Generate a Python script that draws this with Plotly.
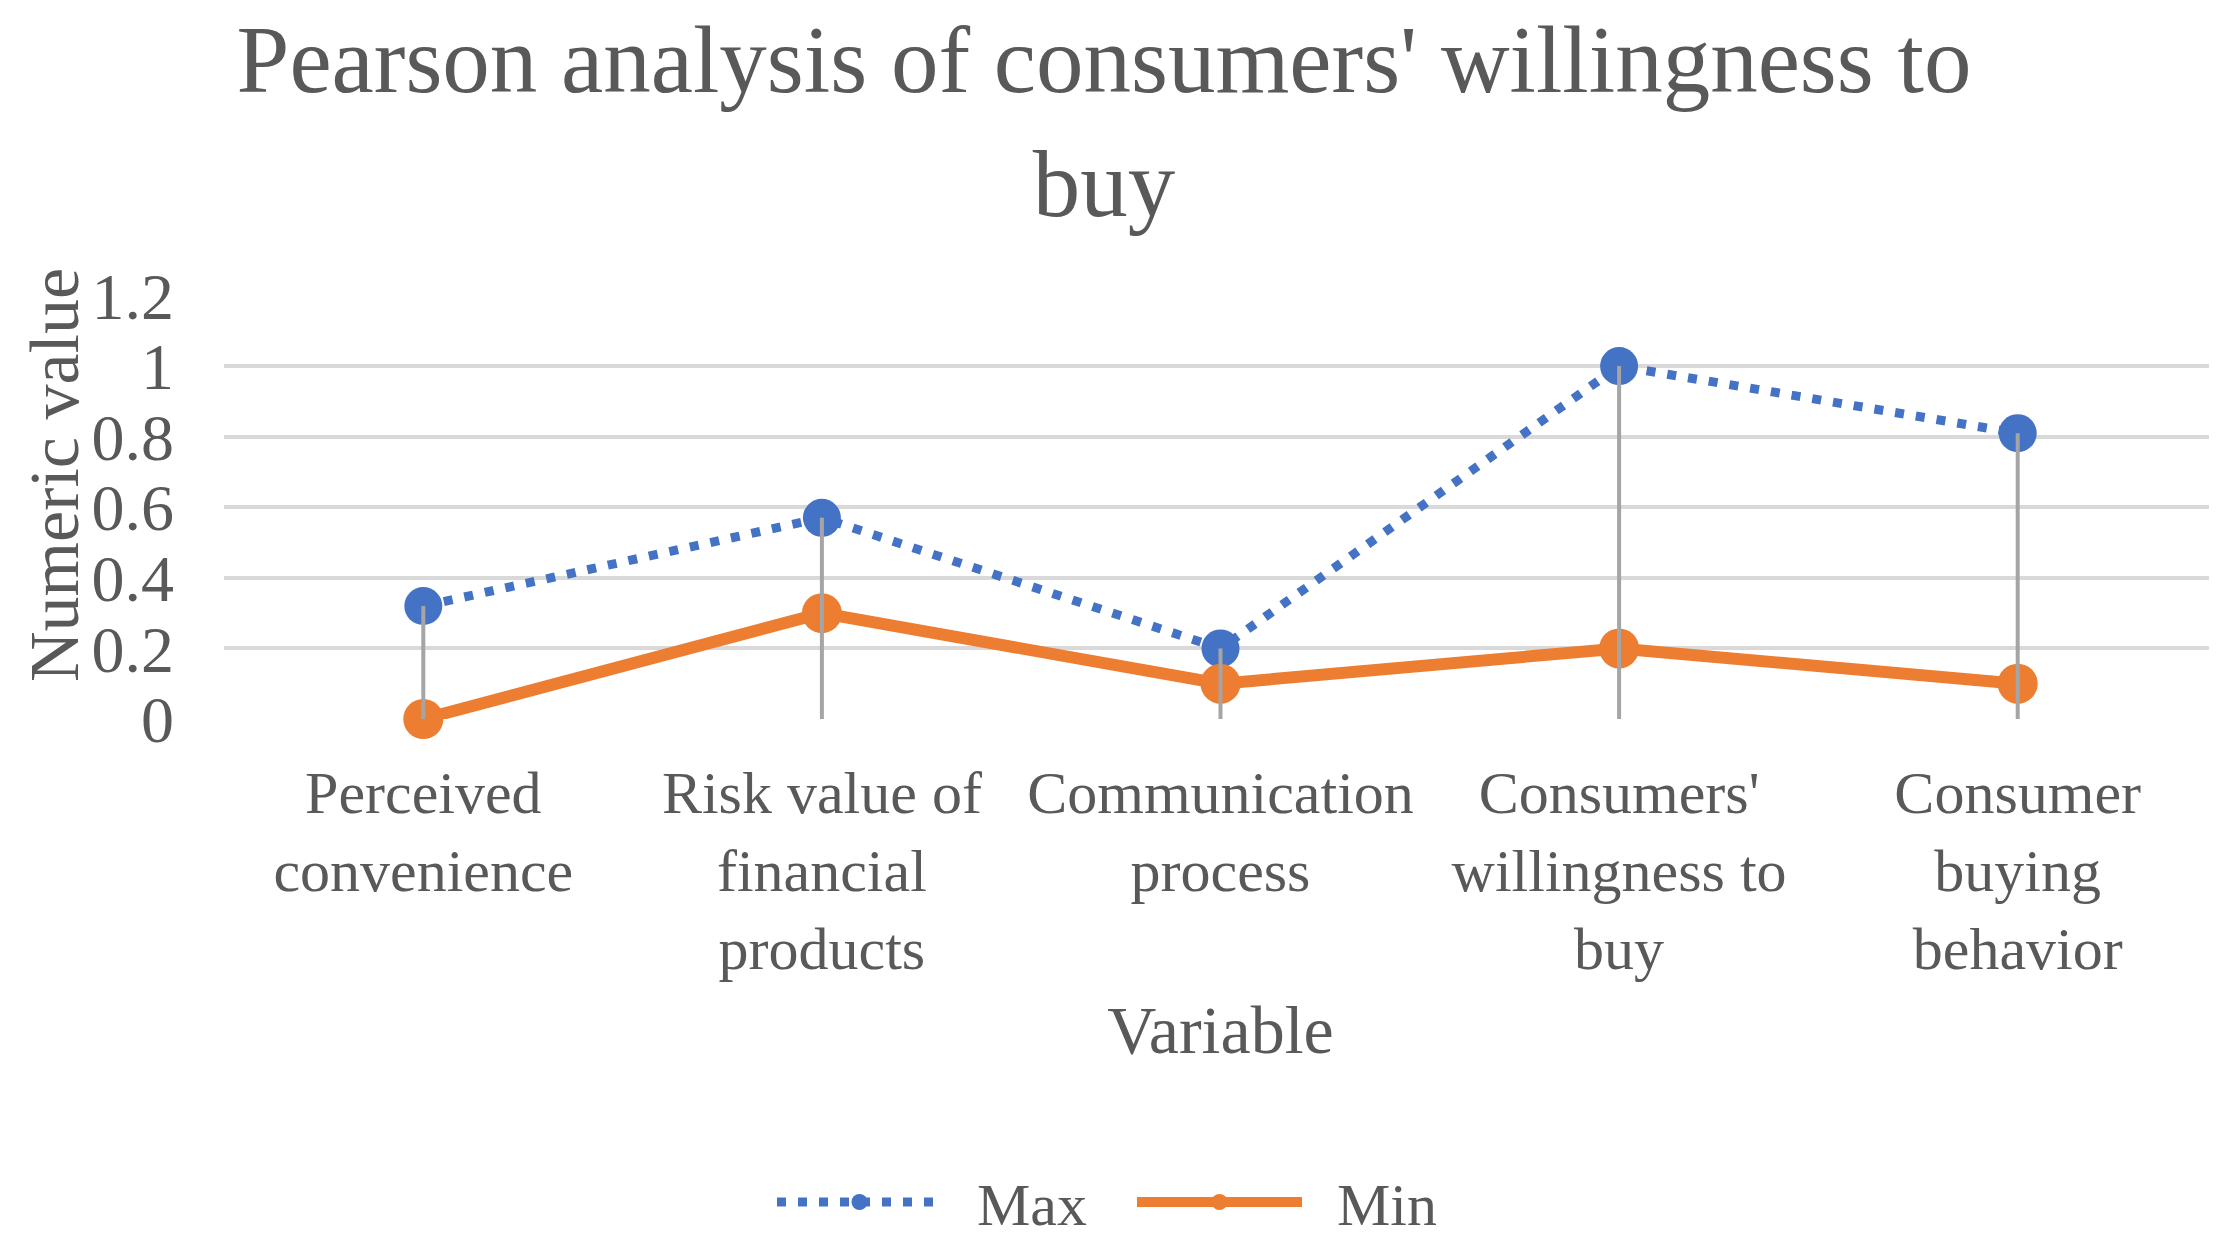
import plotly.graph_objects as go

categories = [
    "Perceived<br>convenience",
    "Risk value of<br>financial<br>products",
    "Communication<br>process",
    "Consumers'<br>willingness to<br>buy",
    "Consumer<br>buying<br>behavior",
]
max_values = [0.32, 0.57, 0.20, 1.00, 0.81]
min_values = [0.00, 0.30, 0.10, 0.20, 0.10]
y_ticks = [0, 0.2, 0.4, 0.6, 0.8, 1.0, 1.2]
y_tick_text = ["0", "0.2", "0.4", "0.6", "0.8", "1", "1.2"]

FONT = "Liberation Serif, Times New Roman, serif"
TXT = "#595959"
W, H = 2217, 1244
L, R, T, B = 216, 8, 287, 533
NB = "\u00a0\u00a0"

# high-low stems from 0 to the max value of each category
stem_x, stem_y = [], []
for c, v in zip(categories, max_values):
    stem_x += [c, c, None]
    stem_y += [0, v, None]

fig = go.Figure()
fig.add_trace(go.Scatter(
    x=categories, y=max_values, name=NB + "Max", mode="lines+markers",
    line=dict(color="#4472C4", width=9, dash="9px,12px"),
    marker=dict(symbol="circle", size=38, color="#4472C4"),
    cliponaxis=False,
))
fig.add_trace(go.Scatter(
    x=categories, y=min_values, name=NB + "Min", mode="lines+markers",
    line=dict(color="#ED7D31", width=12),
    marker=dict(symbol="circle", size=40, color="#ED7D31"),
    cliponaxis=False,
))
fig.add_trace(go.Scatter(
    x=stem_x, y=stem_y, mode="lines", showlegend=False, hoverinfo="skip",
    line=dict(color="#A5A5A5", width=4), cliponaxis=False,
))

fig.update_layout(
    width=W, height=H,
    margin=dict(l=L, r=R, t=T, b=B),
    paper_bgcolor="white", plot_bgcolor="white",
    font=dict(family=FONT, color=TXT, size=60),
    title=dict(
        text="Pearson analysis of consumers' willingness to<br>buy",
        font=dict(family=FONT, color=TXT, size=95),
        x=1096 / W, xanchor="center", xref="container",
        y=1 - 84 / H, yanchor="middle", yref="container",
    ),
    xaxis=dict(
        type="category", range=[-0.5, 4.5],
        showgrid=False, zeroline=False, showline=False,
        ticks="", ticklabelstandoff=33,
        tickfont=dict(family=FONT, color=TXT, size=60),
        title=dict(text="Variable", font=dict(family=FONT, color=TXT, size=68), standoff=24),
    ),
    yaxis=dict(
        range=[0, 1.2015], tickvals=y_ticks, ticktext=y_tick_text,
        showgrid=True, gridcolor="#D9D9D9", gridwidth=4,
        zeroline=False, showline=False, ticks="",
        ticklabelstandoff=49,
        tickfont=dict(family=FONT, color=TXT, size=66),
    ),
    annotations=[dict(
        text="Numeric value", textangle=-90, showarrow=False,
        xref="paper", yref="paper",
        x=(46 - L) / (W - L - R), y=(H - B - 467) / (H - T - B),
        xanchor="center", yanchor="middle",
        font=dict(family=FONT, color=TXT, size=70),
    )],
    legend=dict(
        orientation="h", xref="container", yref="container",
        x=1124 / W, xanchor="center", y=1 - 1194 / H, yanchor="middle",
        font=dict(family=FONT, color=TXT, size=60),
        itemwidth=165, entrywidth=180, entrywidthmode="pixels",
    ),
)

fig.write_html("out.html")
